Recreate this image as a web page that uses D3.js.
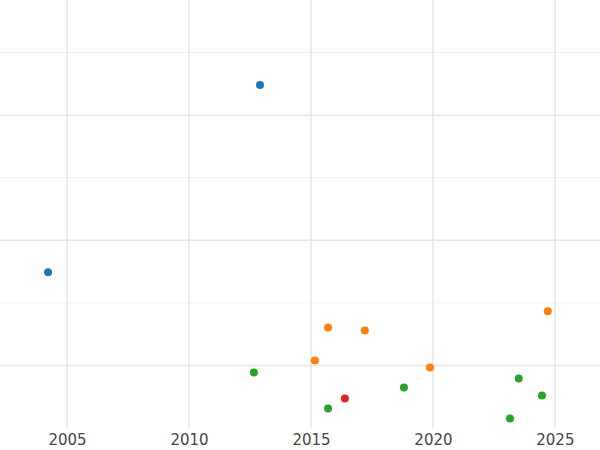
<!DOCTYPE html>
<html><head><meta charset="utf-8">
<script src="https://cdn.jsdelivr.net/npm/d3@7"></script>
<style>body{margin:0;background:#fff}</style></head>
<body><svg id="c" width="600" height="450"></svg>
<script>
const xTicks = [2005, 2010, 2015, 2020, 2025];
const seriesNames = ["blue", "orange", "green", "red"];
const seriesColors = ["#1f77b4", "#ff7f0e", "#2ca02c", "#d62728"];
const blueX = [2012.91, 2004.22];
const blueY = [3.24, 1.744];
const orangeX = [2015.70, 2017.21, 2015.16, 2019.88, 2024.71];
const orangeY = [1.304, 1.28, 1.04, 0.984, 1.432];
const greenX = [2012.66, 2015.70, 2018.81, 2023.52, 2024.47, 2023.16];
const greenY = [0.944, 0.656, 0.824, 0.896, 0.76, 0.576];
const redX = [2016.39];
const redY = [0.736];
const xs = [blueX, orangeX, greenX, redX], ys = [blueY, orangeY, greenY, redY];

const svg = d3.select("#c");
const x = d3.scaleLinear().domain([2002.25, 2026.85]).range([0, 600]);
const y = d3.scaleLinear().domain([0.5, 3.92]).range([428, 0]);
const g = svg.append("g");
[1,1.5,2,2.5,3,3.5].forEach(v=>{
  g.append("line").attr("x1",0).attr("x2",600).attr("y1",y(v)).attr("y2",y(v))
   .attr("stroke", Number.isInteger(v)?"#e6e6e6":"#f0f0f0").attr("stroke-width", Number.isInteger(v)?1.5:1);
});
xTicks.forEach(t=>{
  g.append("line").attr("x1",x(t)).attr("x2",x(t)).attr("y1",0).attr("y2",428)
   .attr("stroke","#e6e6e6").attr("stroke-width",1.5);
});
const ax = svg.append("g").attr("transform","translate(0,428)")
  .call(d3.axisBottom(x).tickValues(xTicks).tickFormat(d3.format("d")).tickSize(0).tickPadding(6));
ax.select(".domain").remove();
ax.selectAll("text").attr("font-family","DejaVu Sans").attr("font-size",15).attr("fill","#444");
seriesNames.forEach((n,i)=>{
  svg.append("g").selectAll("circle").data(xs[i].map((d,j)=>[d,ys[i][j]])).join("circle")
    .attr("cx",d=>x(d[0])).attr("cy",d=>y(d[1])).attr("r",4).attr("fill",seriesColors[i]);
});
</script></body></html>
